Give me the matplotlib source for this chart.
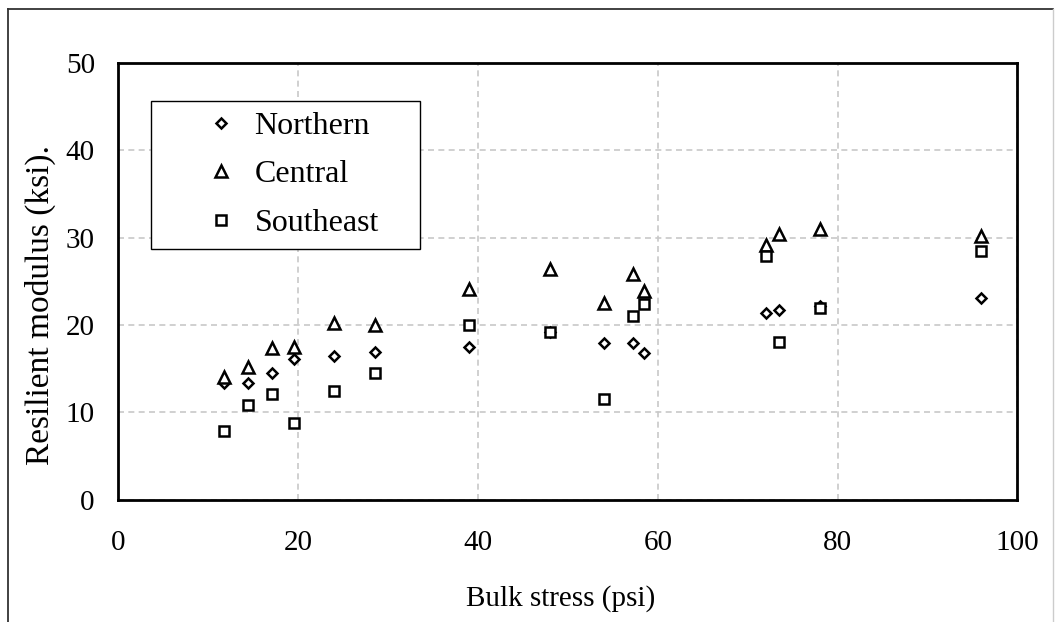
import matplotlib.pyplot as plt
from matplotlib.lines import Line2D

# bulk stress levels (psi) and resilient modulus (ksi) per region
bulk_stress = [11.7, 14.4, 17.1, 19.5, 24.0, 28.5, 39.0, 48.0, 54.0, 57.2, 58.5, 72.0, 73.5, 78.0, 96.0]
northern = [13.4, 13.4, 14.5, 16.1, 16.4, 16.9, 17.5, 19.2, 17.9, 18.0, 16.8, 21.4, 21.7, 22.2, 23.1]
central = [14.1, 15.2, 17.4, 17.5, 20.2, 20.0, 24.1, 26.4, 22.5, 25.8, 23.9, 29.2, 30.4, 31.0, 30.2]
southeast = [7.9, 10.8, 12.1, 8.8, 12.5, 14.5, 20.0, 19.2, 11.5, 21.0, 22.4, 27.9, 18.1, 21.9, 28.5]

plt.rcParams['font.family'] = ['Liberation Serif', 'DejaVu Serif']

fig = plt.figure(figsize=(10.56, 6.22), dpi=100)
ax = fig.add_axes([0.1122, 0.1966, 0.8513, 0.7021])

style = dict(linestyle='none', markerfacecolor='white', markeredgecolor='black',
             markeredgewidth=1.8, zorder=3)
ax.plot(bulk_stress, northern, marker='D', markersize=5.4, label='Northern', **style)
ax.plot(bulk_stress, central, marker='^', markersize=8.0, label='Central', **style)
ax.plot(bulk_stress, southeast, marker='s', markersize=7.6, label='Southeast', **style)

ax.set_xlim(0, 100)
ax.set_ylim(0, 50)
ax.set_xticks([0, 20, 40, 60, 80, 100])
ax.set_yticks([0, 10, 20, 30, 40, 50])
ax.tick_params(axis='both', length=0, labelsize=21)
ax.tick_params(axis='y', pad=17)
ax.tick_params(axis='x', pad=22)
for s in ax.spines.values():
    s.set_linewidth(2)
ax.grid(True, color='#c8c8c8', linewidth=1.2, linestyle=(0, (3.6, 2.6)))
ax.set_axisbelow(True)

ax.set_xlabel('Bulk stress (psi)', fontsize=21)
ax.set_ylabel('Resilient modulus (ksi).', fontsize=24)
ax.xaxis.set_label_coords(0.492, -0.195)
ax.yaxis.set_label_coords(-0.07, 0.446)

leg = ax.legend(loc='upper left', bbox_to_anchor=(0.0362, 0.913, 0.2992, 0),
                mode='expand', borderaxespad=0,
                fontsize=23, fancybox=False, edgecolor='black', framealpha=1,
                borderpad=0.33, labelspacing=0.6, handlelength=3.75,
                handletextpad=-0.84)
leg.get_frame().set_linewidth(1.0)

# outer frame around the figure
fig.add_artist(Line2D([0.008, 0.008], [0, 0.986], color='#333333', linewidth=1.3))
fig.add_artist(Line2D([0.008, 0.9975], [0.986, 0.986], color='#333333', linewidth=1.3))
fig.add_artist(Line2D([0.9975, 0.9975], [0, 0.986], color='#cccccc', linewidth=1.0))

fig.savefig('out.png', dpi=100)
